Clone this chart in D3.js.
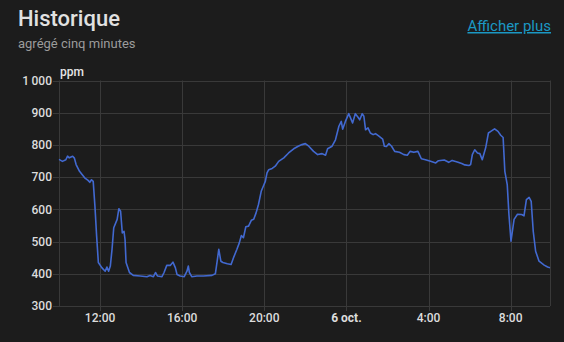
<!DOCTYPE html>
<html>
<head>
<meta charset="utf-8">
<script src="https://cdn.jsdelivr.net/npm/d3@7"></script>
<style>
  html, body { margin: 0; padding: 0; background: #1c1c1c; }
  svg { display: block; }
</style>
</head>
<body>
<svg id="chart" width="564" height="342"></svg>
<script>
// ---- data ----
const times = [
  "2024-10-05T10:00","2024-10-05T10:10","2024-10-05T10:20","2024-10-05T10:25","2024-10-05T10:30",
  "2024-10-05T10:40","2024-10-05T10:45","2024-10-05T10:50","2024-10-05T11:00","2024-10-05T11:15",
  "2024-10-05T11:25","2024-10-05T11:30","2024-10-05T11:35","2024-10-05T11:40","2024-10-05T11:45",
  "2024-10-05T11:50","2024-10-05T11:55","2024-10-05T12:05","2024-10-05T12:15","2024-10-05T12:20",
  "2024-10-05T12:25","2024-10-05T12:30","2024-10-05T12:35","2024-10-05T12:40","2024-10-05T12:50",
  "2024-10-05T12:55","2024-10-05T13:00","2024-10-05T13:05","2024-10-05T13:10","2024-10-05T13:13",
  "2024-10-05T13:16","2024-10-05T13:26","2024-10-05T13:37","2024-10-05T13:57","2024-10-05T14:17",
  "2024-10-05T14:26","2024-10-05T14:36","2024-10-05T14:42","2024-10-05T14:48","2024-10-05T15:01",
  "2024-10-05T15:07","2024-10-05T15:15","2024-10-05T15:25","2024-10-05T15:33","2024-10-05T15:40",
  "2024-10-05T15:45","2024-10-05T15:54","2024-10-05T16:06","2024-10-05T16:14","2024-10-05T16:18",
  "2024-10-05T16:21","2024-10-05T16:28","2024-10-05T16:43","2024-10-05T17:02","2024-10-05T17:27",
  "2024-10-05T17:37","2024-10-05T17:43","2024-10-05T17:47","2024-10-05T17:53","2024-10-05T17:59",
  "2024-10-05T18:12","2024-10-05T18:23","2024-10-05T18:30","2024-10-05T18:40","2024-10-05T18:47",
  "2024-10-05T18:53","2024-10-05T18:59","2024-10-05T19:06","2024-10-05T19:14","2024-10-05T19:22",
  "2024-10-05T19:29","2024-10-05T19:36","2024-10-05T19:43","2024-10-05T19:51","2024-10-05T19:58",
  "2024-10-05T20:03","2024-10-05T20:08","2024-10-05T20:13","2024-10-05T20:23","2024-10-05T20:32",
  "2024-10-05T20:42","2024-10-05T20:57","2024-10-05T21:11","2024-10-05T21:26","2024-10-05T21:39",
  "2024-10-05T21:50","2024-10-05T22:00","2024-10-05T22:10","2024-10-05T22:24","2024-10-05T22:36",
  "2024-10-05T22:49","2024-10-05T22:59","2024-10-05T23:05","2024-10-05T23:18","2024-10-05T23:28",
  "2024-10-05T23:38","2024-10-05T23:45","2024-10-05T23:49","2024-10-05T23:57","2024-10-06T00:07",
  "2024-10-06T00:12","2024-10-06T00:18","2024-10-06T00:26","2024-10-06T00:34","2024-10-06T00:39",
  "2024-10-06T00:46","2024-10-06T00:51","2024-10-06T00:56","2024-10-06T01:03","2024-10-06T01:10",
  "2024-10-06T01:18","2024-10-06T01:25","2024-10-06T01:35","2024-10-06T01:46","2024-10-06T01:51",
  "2024-10-06T01:57","2024-10-06T02:04","2024-10-06T02:12","2024-10-06T02:21","2024-10-06T02:35",
  "2024-10-06T02:48","2024-10-06T02:58","2024-10-06T03:06","2024-10-06T03:17","2024-10-06T03:29",
  "2024-10-06T03:39","2024-10-06T03:51","2024-10-06T04:06","2024-10-06T04:21","2024-10-06T04:29",
  "2024-10-06T04:46","2024-10-06T04:59","2024-10-06T05:09","2024-10-06T05:24","2024-10-06T05:37",
  "2024-10-06T05:46","2024-10-06T05:58","2024-10-06T06:03","2024-10-06T06:08","2024-10-06T06:15",
  "2024-10-06T06:23","2024-10-06T06:30","2024-10-06T06:37","2024-10-06T06:47","2024-10-06T06:55",
  "2024-10-06T07:02","2024-10-06T07:13","2024-10-06T07:23","2024-10-06T07:31","2024-10-06T07:38",
  "2024-10-06T07:43","2024-10-06T07:50","2024-10-06T07:55","2024-10-06T08:01","2024-10-06T08:10",
  "2024-10-06T08:20","2024-10-06T08:32","2024-10-06T08:39","2024-10-06T08:46","2024-10-06T08:54",
  "2024-10-06T09:00","2024-10-06T09:06","2024-10-06T09:13","2024-10-06T09:23","2024-10-06T09:38",
  "2024-10-06T09:48","2024-10-06T09:55"
];
const co2 = [
  755,749,754,765,760, 765,759,739,718,698, 690,684,692,687,610, 517,435,419,408,421,
  408,424,476,543,569, 602,594,527,532,507, 435,404,395,393,391, 395,391,404,393,391,
  404,426,426,436,419, 398,393,391,408,424, 404,391,393,393,395, 400,445,476,439,435,
  431,429,450,476,496, 519,512,546,548,566, 569,589,615,656,674, 687,713,723,727,734,
  749,760,775,788,796, 801,804,796,780,770, 773,768,788,796,816, 858,873,849,873,897,
  884,868,897,886,878, 897,889,847,853,837, 832,835,827,818,796, 795,804,796,780,777,
  770,768,780,777,780, 757,754,749,744,751, 753,746,752,747,742, 738,736,739,770,785,
  775,773,754,791,837, 842,850,842,830,823, 718,677,584,501,569, 585,584,580,630,637,
  625,532,470,439,427, 421,419
];
const yTicks = [300,400,500,600,700,800,900,1000];
const xTickTimes = ["2024-10-05T12:00","2024-10-05T16:00","2024-10-05T20:00","2024-10-06T00:00","2024-10-06T04:00","2024-10-06T08:00"];
const xTickLabels = ["12:00","16:00","20:00","6 oct.","4:00","8:00"];
const domainStart = "2024-10-05T10:00";
const domainEnd = "2024-10-06T09:55";
const unit = "ppm";
const title = "Historique";
const subtitle = "agrégé cinq minutes";
const linkText = "Afficher plus";

// ---- drawing ----
(function () {
const parse = d3.isoParse;
const svg = d3.select("#chart");
const pL = 59, pR = 550, pT = 80.5, pB = 306;

const x = d3.scaleTime().domain([parse(domainStart), parse(domainEnd)]).range([pL, pR]);
const y = d3.scaleLinear().domain([300, 1000]).range([pB, pT]);

const font = "Roboto, 'Noto Sans', sans-serif";
const gridColor = "#393939";

// header
svg.append("text").attr("x", 18).attr("y", 26).attr("fill", "#e1e1e1")
  .style("font", `500 22px ${font}`).text(title);
svg.append("text").attr("x", 18).attr("y", 48).attr("fill", "#9b9b9b")
  .style("font", `400 13px ${font}`).text(subtitle);
svg.append("text").attr("x", 551).attr("y", 31).attr("text-anchor", "end").attr("fill", "#1b98c4")
  .style("font", `400 15px ${font}`).style("text-decoration", "underline").text(linkText);

// y grid + ticks
const fmtY = v => v >= 1000 ? d3.format(",")(v).replace(",", "\u2009") : String(v);
const gy = svg.append("g");
gy.selectAll("line").data(yTicks).join("line")
  .attr("x1", pL - 6).attr("x2", pR)
  .attr("y1", d => Math.round(y(d)) + 0.5).attr("y2", d => Math.round(y(d)) + 0.5)
  .attr("stroke", gridColor).attr("stroke-width", 1);
gy.selectAll("text").data(yTicks).join("text")
  .attr("x", pL - 7).attr("y", d => y(d)).attr("dy", "0.35em")
  .attr("text-anchor", "end").attr("fill", "#dcdcdc")
  .style("font", `500 12px ${font}`).text(fmtY);

// x grid + ticks
const xt = xTickTimes.map(parse);
const gx = svg.append("g");
gx.selectAll("line.v").data([parse(domainStart), ...xt, parse(domainEnd)]).join("line")
  .attr("class", "v")
  .attr("x1", d => Math.round(x(d)) + 0.5).attr("x2", d => Math.round(x(d)) + 0.5)
  .attr("y1", pT).attr("y2", pB)
  .attr("stroke", gridColor);
gx.selectAll("line.t").data(xt).join("line")
  .attr("class", "t")
  .attr("x1", d => Math.round(x(d)) + 0.5).attr("x2", d => Math.round(x(d)) + 0.5)
  .attr("y1", pB).attr("y2", pB + 5)
  .attr("stroke", gridColor);
gx.selectAll("text").data(xt).join("text")
  .attr("x", d => x(d)).attr("y", 322).attr("text-anchor", "middle")
  .attr("fill", "#dcdcdc")
  .style("font", (d, i) => `${xTickLabels[i] === "6 oct." ? 700 : 500} 12px ${font}`)
  .text((d, i) => xTickLabels[i]);

// unit
svg.append("text").attr("x", 60).attr("y", 76).attr("fill", "#e6e6e6")
  .style("font", `500 12px ${font}`).text(unit);

// line
const data = times.map((t, i) => ({ t: parse(t), v: co2[i] }));
const line = d3.line().x(d => x(d.t)).y(d => y(d.v));
svg.append("path").datum(data).attr("d", line)
  .attr("fill", "none").attr("stroke", "#4269d0").attr("stroke-width", 1.6)
  .attr("stroke-linejoin", "round");
})();
</script>
</body>
</html>
